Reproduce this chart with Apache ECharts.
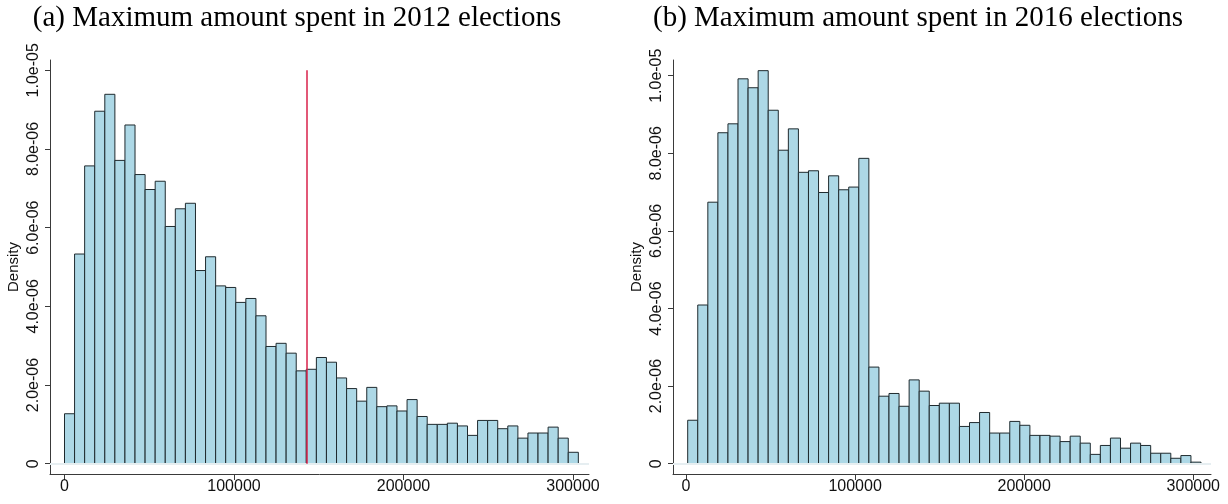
<!DOCTYPE html>
<html>
<head>
<meta charset="utf-8">
<script src="https://cdn.jsdelivr.net/npm/echarts@6/dist/echarts.min.js"></script>
<style>
html,body{margin:0;padding:0;background:#fff;}
#chart{width:1228px;height:504px;}
</style>
</head>
<body>
<div id="chart"></div>
<script>
// ---- data ----
const titles = ['(a) Maximum amount spent in 2012 elections', '(b) Maximum amount spent in 2016 elections'];
const binStart2012 = 0;
const binWidth2012 = 5944;
const dens2012 = [1.27e-6,5.33e-6,7.57e-6,8.96e-6,9.39e-6,7.71e-6,8.61e-6,7.35e-6,6.97e-6,7.18e-6,
  6.03e-6,6.48e-6,6.62e-6,4.91e-6,5.26e-6,4.52e-6,4.48e-6,4.10e-6,4.20e-6,3.76e-6,
  2.98e-6,3.06e-6,2.81e-6,2.36e-6,2.40e-6,2.70e-6,2.58e-6,2.18e-6,1.91e-6,1.59e-6,
  1.94e-6,1.45e-6,1.47e-6,1.34e-6,1.63e-6,1.20e-6,1.00e-6,1.00e-6,1.03e-6,0.96e-6,
  0.72e-6,1.10e-6,1.10e-6,0.89e-6,0.96e-6,0.65e-6,0.78e-6,0.78e-6,0.93e-6,0.65e-6,0.29e-6];
const binStart2016 = 1005;
const binWidth2016 = 5952;
const dens2016 = [1.12e-6,4.09e-6,6.74e-6,8.53e-6,8.76e-6,9.92e-6,9.69e-6,10.13e-6,9.11e-6,8.08e-6,
  8.63e-6,7.51e-6,7.55e-6,6.99e-6,7.42e-6,7.06e-6,7.13e-6,7.87e-6,2.49e-6,1.74e-6,
  1.81e-6,1.48e-6,2.16e-6,1.87e-6,1.50e-6,1.56e-6,1.56e-6,0.96e-6,1.06e-6,1.32e-6,
  0.79e-6,0.79e-6,1.09e-6,0.99e-6,0.73e-6,0.73e-6,0.71e-6,0.57e-6,0.71e-6,0.53e-6,
  0.24e-6,0.47e-6,0.66e-6,0.40e-6,0.53e-6,0.47e-6,0.27e-6,0.27e-6,0.14e-6,0.21e-6,0.04e-6];
const refLine2012 = 142700;
const xTicks = [0, 100000, 200000, 300000];
const yTicks = [0, 2e-6, 4e-6, 6e-6, 8e-6, 1e-5];
const yTickLabels = ['0', '2.0e-06', '4.0e-06', '6.0e-06', '8.0e-06', '1.0e-05'];

// ---- build ----
function bins(start, width, dens) {
  return dens.map((d, i) => [start + i * width, start + (i + 1) * width, d]);
}
const FONT = 'Liberation Sans';
const AXIS_COLOR = '#3a3a3a';
const GRID_COLOR = '#e6eef0';

function renderBar(params, api) {
  const p0 = api.coord([api.value(0), api.value(2)]);
  const p1 = api.coord([api.value(1), 0]);
  return {
    type: 'rect',
    shape: { x: p0[0], y: p0[1], width: p1[0] - p0[0], height: p1[1] - p0[1] },
    style: { fill: '#add8e6', stroke: '#1f2a2e', lineWidth: 1 }
  };
}

function xAxisOpt(idx, min, max) {
  return {
    type: 'value', gridIndex: idx, min: min, max: max,
    axisLine: { show: true, onZero: false, lineStyle: { color: AXIS_COLOR, width: 1 } },
    axisTick: { show: true, length: 6, customValues: xTicks, lineStyle: { color: AXIS_COLOR } },
    axisLabel: { customValues: xTicks, fontFamily: FONT, fontSize: 16, color: '#111', margin: 5,
      formatter: v => String(Math.round(v)) },
    splitLine: { show: false }
  };
}
function yAxisOpt(idx, min, max) {
  return {
    type: 'value', gridIndex: idx, min: min, max: max,
    name: 'Density', nameLocation: 'middle', nameGap: 29,
    nameTextStyle: { fontFamily: FONT, fontSize: 15, color: '#111' },
    axisLine: { show: true, onZero: false, lineStyle: { color: AXIS_COLOR, width: 1 } },
    axisTick: { show: true, length: 5, customValues: yTicks, lineStyle: { color: AXIS_COLOR } },
    axisLabel: { customValues: yTicks, rotate: 90, fontFamily: FONT, fontSize: 16, color: '#111', margin: 8,
      formatter: v => { const i = yTicks.findIndex(t => Math.abs(t - v) < 1e-12); return i >= 0 ? yTickLabels[i] : ''; } },
    splitLine: { show: false }
  };
}
function gridSeries(idx) {
  return {
    type: 'line', xAxisIndex: idx, yAxisIndex: idx, data: [], z: 1, silent: true,
    markLine: {
      silent: true, symbol: 'none', label: { show: false },
      lineStyle: { color: GRID_COLOR, type: 'solid', width: 1.5 },
      data: yTicks.map(v => ({ yAxis: v }))
    }
  };
}

const option = {
  animation: false,
  backgroundColor: '#fff',
  title: [
    { text: titles[0], left: 297, top: 4, textAlign: 'center', padding: 0,
      textStyle: { fontFamily: 'Liberation Serif', fontSize: 29, fontWeight: 'normal', color: '#000' } },
    { text: titles[1], left: 918, top: 4, textAlign: 'center', padding: 0,
      textStyle: { fontFamily: 'Liberation Serif', fontSize: 29, fontWeight: 'normal', color: '#000' } }
  ],
  grid: [
    { left: 50, width: 539, top: 60, height: 414, containLabel: false, outerBoundsMode: 'none' },
    { left: 673, width: 538, top: 60, height: 414, containLabel: false, outerBoundsMode: 'none' }
  ],
  xAxis: [ xAxisOpt(0, -8555, 309440), xAxisOpt(1, -7688, 310467) ],
  yAxis: [ yAxisOpt(0, -0.2618e-6, 10.262e-6), yAxisOpt(1, -0.2655e-6, 10.405e-6) ],
  series: [
    gridSeries(0),
    gridSeries(1),
    {
      type: 'custom', xAxisIndex: 0, yAxisIndex: 0, z: 2,
      renderItem: renderBar, encode: { x: [0, 1], y: 2 },
      data: bins(binStart2012, binWidth2012, dens2012),
      markLine: {
        silent: true, symbol: 'none', label: { show: false },
        lineStyle: { color: '#d8204a', type: 'solid', width: 1.5 },
        data: [[{ coord: [refLine2012, 0] }, { coord: [refLine2012, 1e-5] }]]
      }
    },
    {
      type: 'custom', xAxisIndex: 1, yAxisIndex: 1, z: 2,
      renderItem: renderBar, encode: { x: [0, 1], y: 2 },
      data: bins(binStart2016, binWidth2016, dens2016)
    }
  ]
};
const chart = echarts.init(document.getElementById('chart'), null, { renderer: 'canvas' });
chart.setOption(option);
</script>
</body>
</html>
